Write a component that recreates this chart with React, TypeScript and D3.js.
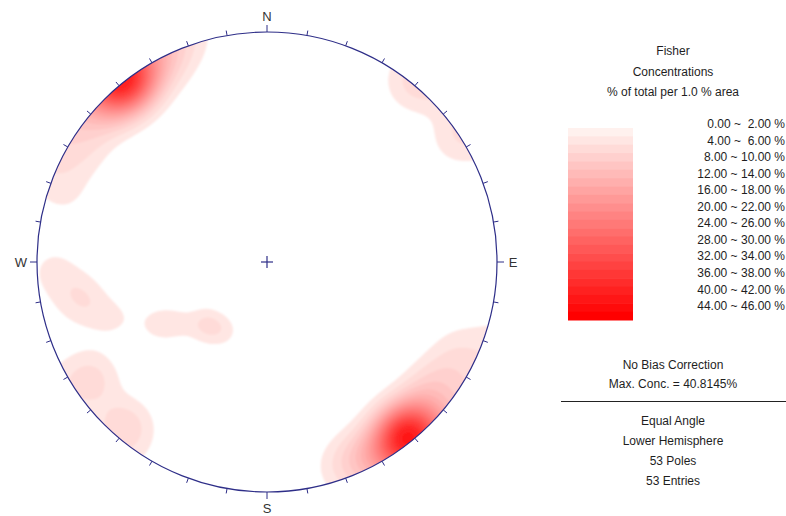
import React, { useMemo } from "react";
import * as d3 from "d3";

// ---- data: poles (trend = direction of plunge, plunge), degrees ----
const poleTrends = [
  // main cluster, NW-plunging
  322, 321, 323, 320, 324, 319, 322, 318, 326, 316, 329, 312, 306, 299, 289, 334, 322,
  // main cluster, SE-plunging
  141, 140, 142, 139, 143, 141, 138, 144, 140, 136, 146, 142, 133, 149, 130, 152, 126, 156, 121, 160, 114,
  // west blob
  268, 261, 257, 250,
  // centre-west blob
  226, 222, 212, 236, 241,
  // SW / NE near-horizontal
  238, 235, 222, 220, 39, 57,
];
const polePlunges = [
  1.5, 1, 2, 2, 1, 1.5, 3, 3, 2, 2, 1, 3, 3, 4, 4, 2, 0.5,
  3, 2, 3, 4, 2, 4, 3, 4, 5, 4, 3, 6, 5, 4, 7, 4, 6, 4, 6, 3, 5,
  4, 10, 12, 19,
  48, 49, 51, 39, 32,
  5, 6, 4, 4, 1, 2,
];

const KAPPA = 111.5;
const contourLevels = d3.range(2, 46, 2); // 2,4,...,44
const legendLabels = [
  "0.00 ~  2.00 %", "4.00 ~  6.00 %", "8.00 ~ 10.00 %", "12.00 ~ 14.00 %",
  "16.00 ~ 18.00 %", "20.00 ~ 22.00 %", "24.00 ~ 26.00 %", "28.00 ~ 30.00 %",
  "32.00 ~ 34.00 %", "36.00 ~ 38.00 %", "40.00 ~ 42.00 %", "44.00 ~ 46.00 %",
];
const titleLines = ["Fisher", "Concentrations", "% of total per 1.0 % area"];
const infoLines1 = ["No Bias Correction", "Max. Conc. = 40.8145%"];
const infoLines2 = ["Equal Angle", "Lower Hemisphere", "53 Poles", "53 Entries"];
const cardinals = [
  { a: 0, t: "N" },
  { a: 90, t: "E" },
  { a: 180, t: "S" },
  { a: 270, t: "W" },
];

const W = 786, H = 516;
const CX = 267, CY = 262, R = 230;
const NAVY = "#2e2e88";
const FONT = "'Liberation Sans', Arial, sans-serif";
const TEXT = "#1e1e1e";

const bandColor = d3.scaleLinear<string>()
  .domain([0, contourLevels.length])
  .range(["#fff1ee", "#ff0000"])
  .interpolate(d3.interpolateRgb);

export default function App() {
  const paths = useMemo(() => {
    const rad = Math.PI / 180;
    const vecs = poleTrends.map((t, i) => {
      const p = polePlunges[i] * rad, tr = t * rad;
      return [Math.cos(p) * Math.sin(tr), Math.cos(p) * Math.cos(tr), Math.sin(p)];
    });
    const N = vecs.length;
    const step = 2;
    const x0 = CX - R - 8, y0 = CY - R - 8;
    const nx = Math.ceil((2 * R + 16) / step) + 1;
    const ny = nx;
    const values = new Float64Array(nx * ny);
    for (let j = 0; j < ny; j++) {
      for (let i = 0; i < nx; i++) {
        const dx = x0 + i * step - CX, dy = y0 + j * step - CY;
        const rho = Math.sqrt(dx * dx + dy * dy) / R;
        const psi = 2 * Math.atan(rho);
        const tr = Math.atan2(dx, -dy);
        const u0 = Math.sin(psi) * Math.sin(tr), u1 = Math.sin(psi) * Math.cos(tr), u2 = Math.cos(psi);
        let s = 0;
        for (const v of vecs) {
          const c = Math.abs(u0 * v[0] + u1 * v[1] + u2 * v[2]);
          s += Math.exp(KAPPA * (c - 1));
        }
        values[j * nx + i] = (KAPPA / N) * s;
      }
    }
    const cont = d3.contours().size([nx, ny]).thresholds(contourLevels)(Array.from(values));
    const gp = d3.geoPath(d3.geoIdentity().scale(step).translate([x0 - step / 2, y0 - step / 2]) as any);
    return cont.map((c, k) => ({ d: gp(c as any) || "", fill: bandColor(k + 1) }));
  }, []);

  const ticks = d3.range(0, 360, 10);
  const legendX = 568, legendY = 128, legendW = 65, legendH = 192;
  const nBands = contourLevels.length + 1;

  return (
    <svg width={W} height={H} style={{ position: "absolute", left: 0, top: 0, background: "#fff" }}
      fontFamily={FONT}>
      <defs>
        <clipPath id="net">
          <circle cx={CX} cy={CY} r={R} />
        </clipPath>
        <filter id="soft" x="-5%" y="-5%" width="110%" height="110%">
          <feGaussianBlur stdDeviation={1.3} />
        </filter>
      </defs>
      <rect width={W} height={H} fill="#fff" />
      <g clipPath="url(#net)">
        <g filter="url(#soft)">
          {paths.map((p, i) => <path key={i} d={p.d} fill={p.fill} stroke="none" />)}
        </g>
      </g>
      <circle cx={CX} cy={CY} r={R} fill="none" stroke={NAVY} strokeWidth={1.2} />
      {ticks.map((a) => {
        const r = a * Math.PI / 180;
        const len = a % 90 === 0 ? 7 : 5;
        return (
          <line key={a}
            x1={CX + R * Math.sin(r)} y1={CY - R * Math.cos(r)}
            x2={CX + (R + len) * Math.sin(r)} y2={CY - (R + len) * Math.cos(r)}
            stroke={NAVY} strokeWidth={1} />
        );
      })}
      {cardinals.map((c) => {
        const r = c.a * Math.PI / 180;
        return (
          <text key={c.t} x={CX + (R + 16) * Math.sin(r)} y={CY - (R + 16) * Math.cos(r)}
            textAnchor="middle" dominantBaseline="central" fontSize={13} fill="#333">{c.t}</text>
        );
      })}
      <line x1={CX - 6} x2={CX + 6} y1={CY} y2={CY} stroke={NAVY} strokeWidth={1.2} />
      <line x1={CX} x2={CX} y1={CY - 6} y2={CY + 6} stroke={NAVY} strokeWidth={1.2} />

      {titleLines.map((t, i) => (
        <text key={t} x={673} y={51 + i * 20.5} textAnchor="middle" dominantBaseline="central" fontSize={12} fill={TEXT}>{t}</text>
      ))}
      {d3.range(nBands).map((k) => (
        <rect key={k} x={legendX} y={legendY + (k * legendH) / nBands} width={legendW}
          height={legendH / nBands + 0.5} fill={bandColor(k)} />
      ))}
      {legendLabels.map((t, i) => (
        <text key={t} x={785} y={124 + i * 16.55} textAnchor="end" dominantBaseline="central" fontSize={12}
          fill={TEXT} style={{ whiteSpace: "pre" }}>{t}</text>
      ))}
      {infoLines1.map((t, i) => (
        <text key={t} x={673} y={365 + i * 18.5} textAnchor="middle" dominantBaseline="central" fontSize={12} fill={TEXT}>{t}</text>
      ))}
      <line x1={561} x2={786} y1={401.5} y2={401.5} stroke="#222" strokeWidth={1} />
      {infoLines2.map((t, i) => (
        <text key={t} x={673} y={421 + i * 20} textAnchor="middle" dominantBaseline="central" fontSize={12} fill={TEXT}>{t}</text>
      ))}
    </svg>
  );
}
